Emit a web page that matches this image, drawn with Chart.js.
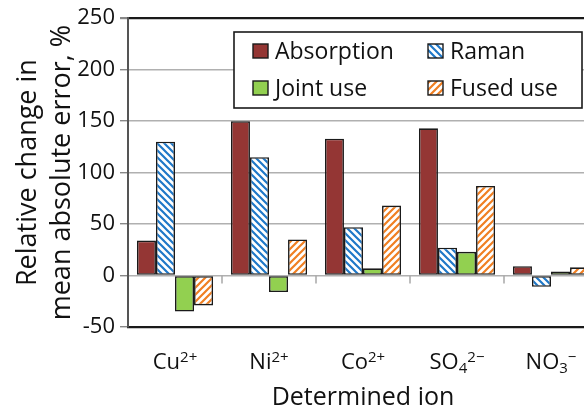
<!DOCTYPE html>
<html>
<head>
<meta charset="utf-8">
<script src="https://cdn.jsdelivr.net/npm/chart.js@4.4.1/dist/chart.umd.min.js"></script>
<style>
html,body{margin:0;padding:0;background:#fff;overflow:hidden;}
#wrap{position:absolute;left:0;top:0;width:612px;height:413px;}
</style>
</head>
<body>
<div id="wrap"><canvas id="c" width="612" height="413"></canvas></div>
<script>
const categories = ['Cu²⁺', 'Ni²⁺', 'Co²⁺', 'SO₄²⁻', 'NO₃⁻'];
const absorption = [34, 150, 133, 143, 9];
const raman = [130, 115, 47, 27, -11];
const jointUse = [-35, -16, 7, 23, 4];
const fusedUse = [-29, 35, 68, 87, 8];
const seriesNames = ['Absorption', 'Raman', 'Joint use', 'Fused use'];
const yTicks = [-50, 0, 50, 100, 150, 200, 250];
const xTitle = 'Determined ion';
const yTitle = ['Relative change in', 'mean absolute error, %'];

const FONT = "'Open Sans', 'DejaVu Sans', sans-serif";

function stripePattern(color, dir) {
  const s = 7;
  const p = document.createElement('canvas');
  p.width = s; p.height = s;
  const g = p.getContext('2d');
  g.fillStyle = '#fff';
  g.fillRect(0, 0, s, s);
  g.strokeStyle = color;
  g.lineWidth = 2.2;
  g.beginPath();
  if (dir === 'back') {
    g.moveTo(-1, -1); g.lineTo(s + 1, s + 1);
    g.moveTo(-1, s - 1); g.lineTo(1, s + 1);
    g.moveTo(s - 1, -1); g.lineTo(s + 1, 1);
  } else {
    g.moveTo(-1, s + 1); g.lineTo(s + 1, -1);
    g.moveTo(-1, 1); g.lineTo(1, -1);
    g.moveTo(s - 1, s + 1); g.lineTo(s + 1, s - 1);
  }
  g.stroke();
  return document.getElementById('c').getContext('2d').createPattern(p, 'repeat');
}

const ramanFill = stripePattern('#1f78c8', 'back');
const fusedFill = stripePattern('#f07f22', 'fwd');

const common = { borderColor: '#1a1a1a', borderWidth: 1.6, borderSkipped: false, categoryPercentage: 0.81, barPercentage: 1.0 };

const zeroTicks = {
  id: 'zeroTicks',
  afterDatasetsDraw(chart) {
    const x = chart.scales.x, y = chart.scales.y, ctx = chart.ctx;
    const y0 = y.getPixelForValue(0);
    ctx.save();
    ctx.strokeStyle = '#a8a8a8';
    ctx.lineWidth = 1.5;
    ctx.beginPath();
    for (let i = 1; i < categories.length; i++) {
      const xm = (x.getPixelForValue(i - 1) + x.getPixelForValue(i)) / 2;
      ctx.moveTo(xm, y0); ctx.lineTo(xm, y0 + 8);
    }
    ctx.stroke();
    ctx.restore();
  }
};

// Draw category labels with real raised / lowered script parts
const SUP = { '²': '2', '³': '3', '⁺': '+', '⁻': '−' };
const SUB = { '₃': '3', '₄': '4' };
const ionLabels = {
  id: 'ionLabels',
  afterDraw(chart) {
    const ctx = chart.ctx, x = chart.scales.x;
    const base = 369, big = 22, small = 15;
    ctx.save();
    ctx.fillStyle = '#111';
    ctx.textBaseline = 'alphabetic';
    ctx.textAlign = 'left';
    categories.forEach((lab, i) => {
      const segs = [];
      for (const ch of lab) {
        if (SUP[ch]) segs.push({ t: SUP[ch], size: small, dy: -7.5 });
        else if (SUB[ch]) segs.push({ t: SUB[ch], size: small, dy: 4 });
        else segs.push({ t: ch, size: big, dy: 0 });
      }
      let w = 0;
      segs.forEach(s => { ctx.font = s.size + 'px ' + FONT; s.w = ctx.measureText(s.t).width; w += s.w; });
      let cx = x.getPixelForValue(i) - w / 2;
      segs.forEach(s => { ctx.font = s.size + 'px ' + FONT; ctx.fillText(s.t, cx, base + s.dy); cx += s.w; });
    });
    ctx.restore();
  }
};

const boxLegend = {
  id: 'boxLegend',
  afterDraw(chart) {
    const ctx = chart.ctx;
    const bx = 234, by = 32, bw = 348, bh = 76;
    ctx.save();
    ctx.fillStyle = '#fff';
    ctx.fillRect(bx, by, bw, bh);
    ctx.strokeStyle = '#1a1a1a';
    ctx.lineWidth = 1.6;
    ctx.strokeRect(bx, by, bw, bh);
    const pos = [[253, 51], [428, 51], [253, 88], [428, 88]];
    ctx.font = '23px ' + FONT;
    ctx.textBaseline = 'middle';
    chart.data.datasets.forEach((ds, i) => {
      const [px, py] = pos[i];
      ctx.fillStyle = ds.backgroundColor;
      ctx.fillRect(px, py - 7, 15, 14);
      ctx.strokeStyle = '#1a1a1a';
      ctx.lineWidth = 1.4;
      ctx.strokeRect(px, py - 7, 15, 14);
      ctx.fillStyle = '#111';
      ctx.fillText(ds.label, px + 22, py + 1);
    });
    ctx.restore();
  }
};

new Chart(document.getElementById('c'), {
  type: 'bar',
  data: {
    labels: categories,
    datasets: [
      Object.assign({ label: seriesNames[0], data: absorption, backgroundColor: '#943634' }, common),
      Object.assign({ label: seriesNames[1], data: raman, backgroundColor: ramanFill }, common),
      Object.assign({ label: seriesNames[2], data: jointUse, backgroundColor: '#92d050' }, common),
      Object.assign({ label: seriesNames[3], data: fusedUse, backgroundColor: fusedFill }, common)
    ]
  },
  options: {
    responsive: false,
    animation: false,
    layout: { padding: { top: 17, right: 14, left: 4, bottom: 0 } },
    plugins: { legend: { display: false }, tooltip: { enabled: false } },
    scales: {
      x: {
        grid: { display: false },
        border: { color: '#1a1a1a', width: 2.2 },
        ticks: { display: false },
        title: { display: true, text: xTitle, color: '#111', font: { family: FONT, size: 25, lineHeight: 1.2 }, padding: { top: 0, bottom: 0 } },
        afterFit(s) { s.height = 86; }
      },
      y: {
        min: -50, max: 250,
        afterBuildTicks(s) { s.ticks = yTicks.map(v => ({ value: v })); },
        grid: {
          color: c => (c.tick && (c.tick.value === 250 || c.tick.value === -50) ? '#1a1a1a' : '#b0b0b0'),
          lineWidth: c => (c.tick && c.tick.value === 250 ? 2.2 : 1.4),
          tickLength: 8,
          tickColor: '#888'
        },
        border: { color: '#555', width: 2 },
        ticks: { color: '#111', font: { family: FONT, size: 22 }, padding: 5 },
        title: { display: true, text: yTitle, color: '#111', font: { family: FONT, size: 27, lineHeight: 1.26 }, padding: { top: 7, bottom: 0 } },
        afterFit(s) { s.width = 124; }
      }
    }
  },
  plugins: [zeroTicks, ionLabels, boxLegend]
});
</script>
</body>
</html>
